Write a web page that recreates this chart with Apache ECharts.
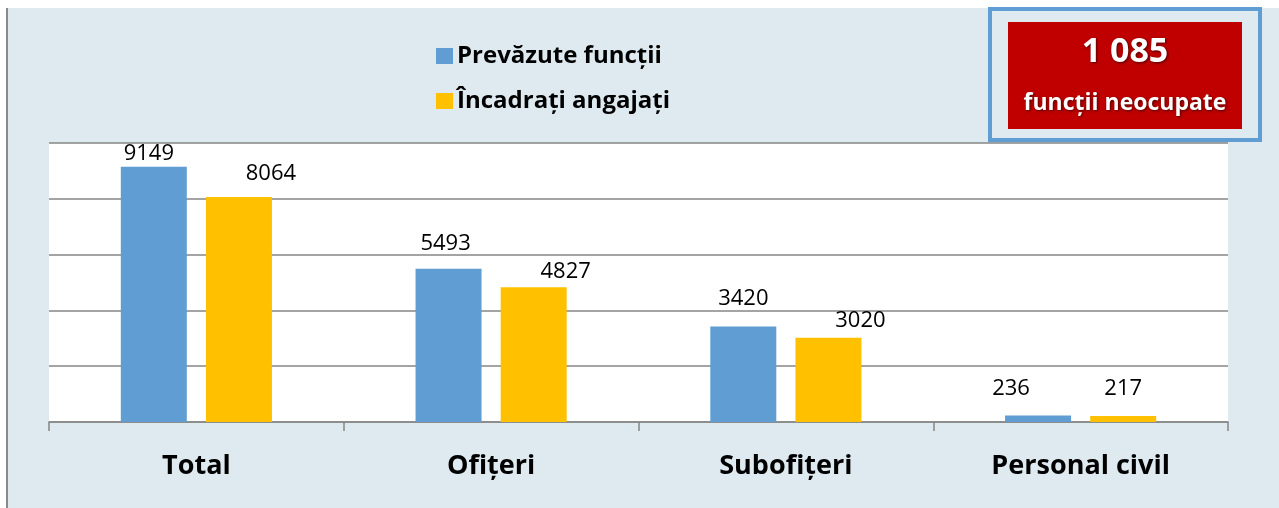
<!DOCTYPE html>
<html>
<head>
<meta charset="utf-8">
<script src="https://cdn.jsdelivr.net/npm/echarts@6/dist/echarts.min.js"></script>
<style>
html,body{margin:0;padding:0;background:#ffffff;}
#bg{position:absolute;left:6px;top:8px;width:1273px;height:500px;background:#deeaef;border-left:2px solid #8a8a8a;box-sizing:border-box;}
#chart{position:absolute;left:0;top:0;width:1279px;height:508px;}
</style>
</head>
<body>
<div id="bg"></div>
<div id="chart"></div>
<script>
const categories = ['Total', 'Ofițeri', 'Subofițeri', 'Personal civil'];
const seriesNames = ['Prevăzute funcții', 'Încadrați angajați'];
const prevazute = [9149, 5493, 3420, 236];
const incadrati = [8064, 4827, 3020, 217];
const boxNumber = '1 085';
const boxText = 'funcții neocupate';

// label nudges (layout only): [dx, dy]
const nudgeBlue = [[-5, -2], [-3, -14], [0, -17], [-27, -16]];
const nudgeOrange = [[32, -12], [32, -5], [32, -6], [0, -16]];

const FONT = '"Open Sans", "Noto Sans", sans-serif';
const chart = echarts.init(document.getElementById('chart'), null, {renderer: 'canvas'});

function build(values, nudges) {
  return values.map((v, i) => ({value: v, label: {offset: nudges[i]}}));
}

const labelStyle = {
  show: true, position: 'top', distance: 0,
  color: '#000', fontFamily: FONT, fontSize: 22, lineHeight: 22
};

chart.setOption({
  backgroundColor: 'transparent',
  animation: false,
  textStyle: {fontFamily: FONT},
  grid: {left: 49, right: 51, top: 143, bottom: 86, show: true, backgroundColor: '#ffffff', borderWidth: 0},
  legend: {
    orient: 'vertical', left: 436, top: 43, padding: 0, itemWidth: 17, itemHeight: 16, itemGap: 19,
    icon: 'rect',
    textStyle: {fontFamily: FONT, fontWeight: 'bold', fontSize: 24, color: '#000', lineHeight: 26, padding: [0, 0, 0, -1]},
    data: seriesNames
  },
  xAxis: {
    type: 'category', data: categories,
    axisLine: {lineStyle: {color: '#868686', width: 1.5}},
    axisTick: {show: true, length: 9, lineStyle: {color: '#868686', width: 1.5}},
    axisLabel: {fontFamily: FONT, fontWeight: 'bold', fontSize: 27, color: '#000', margin: 29, lineHeight: 30}
  },
  yAxis: {
    type: 'value', min: 0, max: 10000, interval: 2000,
    axisLabel: {show: false}, axisLine: {show: false}, axisTick: {show: false},
    splitLine: {lineStyle: {color: '#868686', width: 1.5}}
  },
  series: [
    {name: seriesNames[0], type: 'bar', barWidth: 66, barGap: '29%',
     itemStyle: {color: '#5f9dd2'}, label: labelStyle, data: build(prevazute, nudgeBlue)},
    {name: seriesNames[1], type: 'bar', barWidth: 66, barGap: '29%',
     itemStyle: {color: '#ffc000'}, label: labelStyle, data: build(incadrati, nudgeOrange)}
  ],
  graphic: [
    {type: 'rect', z: 100, shape: {x: 990, y: 9, width: 270, height: 131},
     style: {fill: '#deeaef', stroke: '#5f9dd2', lineWidth: 4}},
    {type: 'rect', z: 101, shape: {x: 1008, y: 22, width: 234, height: 107},
     style: {fill: '#c00000'}},
    {type: 'text', z: 102, x: 1125, y: 52,
     style: {text: boxNumber, fill: '#fff', font: 'bold 34px ' + FONT, align: 'center', verticalAlign: 'middle',
       textShadowColor: 'rgba(0,0,0,0.6)', textShadowBlur: 3, textShadowOffsetX: 1, textShadowOffsetY: 1}},
    {type: 'text', z: 102, x: 1125, y: 103,
     style: {text: boxText, fill: '#fff', font: 'bold 23px ' + FONT, align: 'center', verticalAlign: 'middle',
       textShadowColor: 'rgba(0,0,0,0.6)', textShadowBlur: 3, textShadowOffsetX: 1, textShadowOffsetY: 1}}
  ]
});
</script>
</body>
</html>
